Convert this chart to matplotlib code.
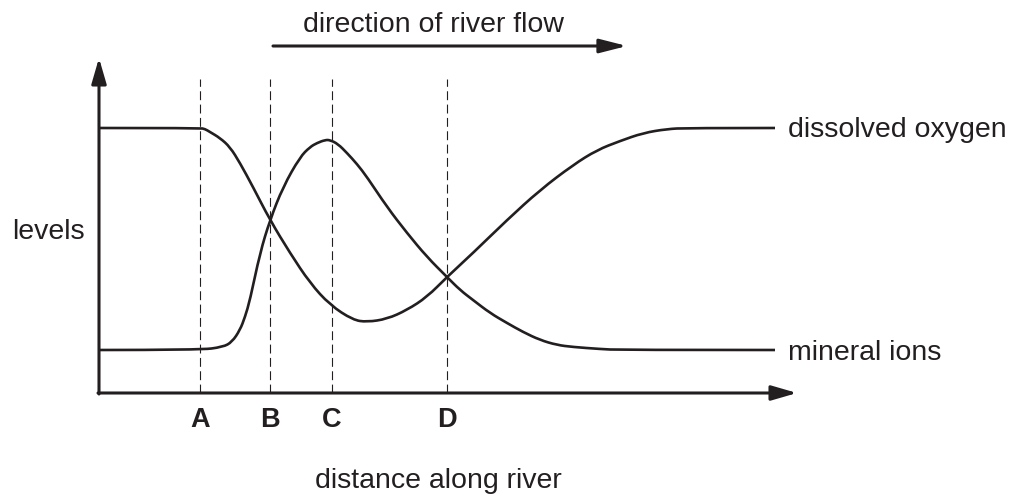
import matplotlib
matplotlib.use("Agg")
import matplotlib.pyplot as plt
from matplotlib.path import Path
from matplotlib.patches import PathPatch

# ---- data (chart units: distance along river, level) ----
oxygen_dist = [0, 101, 106, 111, 121, 131, 141, 154, 171, 191, 211, 231, 254, 268,
               288, 308, 328, 348, 374, 408, 441, 474, 498, 521, 544, 568, 588, 676]
oxygen_level = [265, 265, 264, 261, 255, 246, 230, 206, 173, 140, 110, 88, 73, 71,
                74, 83, 96, 116, 140, 173, 203, 228, 243, 252, 260, 264, 265, 265]

mineral_dist = [0, 101, 124, 133, 141, 146, 151, 161, 171, 184, 201, 211, 218, 226,
                231, 239, 248, 258, 268, 288, 308, 328, 348, 361, 374, 391, 408,
                424, 441, 458, 474, 501, 521, 676]
mineral_level = [43, 43, 46, 51, 63, 76, 93, 140, 173, 206, 236, 246, 250, 253,
                 253, 249, 240, 229, 216, 186, 160, 136, 116, 103, 93, 80, 70,
                 61, 53, 48, 46, 44, 43, 43]

site_names = ["A", "B", "C", "D"]
site_dist = [101, 171, 233, 348]

series_labels = ["dissolved oxygen", "mineral ions"]
x_label = "distance along river"
y_label = "levels"
flow_label = "direction of river flow"

INK = "#231f20"
plt.rcParams["font.family"] = ["Liberation Sans", "DejaVu Sans"]

fig = plt.figure(figsize=(10.19, 5.01), dpi=100)
W, H = 1019, 501
x0, y0, x1, y1 = 99, 393, 797, 58
ax = fig.add_axes([x0 / W, 1 - y0 / H, (x1 - x0) / W, (y0 - y1) / H])
ax.set_xlim(0, x1 - x0)
ax.set_ylim(0, y0 - y1)
ax.axis("off")


def smooth_path(xs, ys):
    """Quadratic-Bezier path using the data points as control points."""
    pts = list(zip(xs, ys))
    verts = [pts[0]]
    codes = [Path.MOVETO]
    for i in range(1, len(pts) - 1):
        mx = (pts[i][0] + pts[i + 1][0]) / 2
        my = (pts[i][1] + pts[i + 1][1]) / 2
        if i == len(pts) - 2:
            mx, my = pts[-1]
        verts += [pts[i], (mx, my)]
        codes += [Path.CURVE3, Path.CURVE3]
    return Path(verts, codes)


for xs, ys in [(oxygen_dist, oxygen_level), (mineral_dist, mineral_level)]:
    ax.add_patch(PathPatch(smooth_path(xs, ys), fill=False, edgecolor=INK,
                           lw=1.9, capstyle="butt", joinstyle="round",
                           clip_on=False))

# dashed site lines and letters
for name, d in zip(site_names, site_dist):
    ax.plot([d, d], [0, 314], color=INK, lw=0.8, dashes=(8, 4), clip_on=False)
    ax.text(d, -34, name, ha="center", va="baseline", fontsize=19.5,
            fontweight="bold", color=INK, clip_on=False)

# axes with arrows
arrow_style = "-|>,head_length=1.55,head_width=0.45"
ax.annotate("", xy=(0, y0 - y1), xytext=(0, -1),
            arrowprops=dict(arrowstyle=arrow_style, lw=2.2, color=INK,
                            mutation_scale=10, shrinkA=0, shrinkB=0),
            annotation_clip=False)
ax.annotate("", xy=(x1 - x0, 0), xytext=(-1, 0),
            arrowprops=dict(arrowstyle=arrow_style, lw=2.2, color=INK,
                            mutation_scale=10, shrinkA=0, shrinkB=0),
            annotation_clip=False)

# flow arrow
ax.annotate("", xy=(528, 347), xytext=(174, 347),
            arrowprops=dict(arrowstyle="-|>,head_length=1.65,head_width=0.42",
                            lw=2.2, color=INK, mutation_scale=10,
                            shrinkA=0, shrinkB=0),
            annotation_clip=False)
ax.text(204, 361, flow_label, ha="left", va="baseline", fontsize=20.5,
        color=INK, clip_on=False)

# series labels
ax.text(689, 256, series_labels[0], ha="left", va="baseline", fontsize=20.5,
        color=INK, clip_on=False)
ax.text(689, 33, series_labels[1], ha="left", va="baseline", fontsize=20.5,
        color=INK, clip_on=False)

# axis labels
ax.text(-87, 154, y_label, ha="left", va="baseline", fontsize=20.5,
        color=INK, clip_on=False)
ax.text(339, -95, x_label, ha="center", va="baseline", fontsize=20.5,
        color=INK, clip_on=False)

fig.savefig("out.png", dpi=100, facecolor="white")
